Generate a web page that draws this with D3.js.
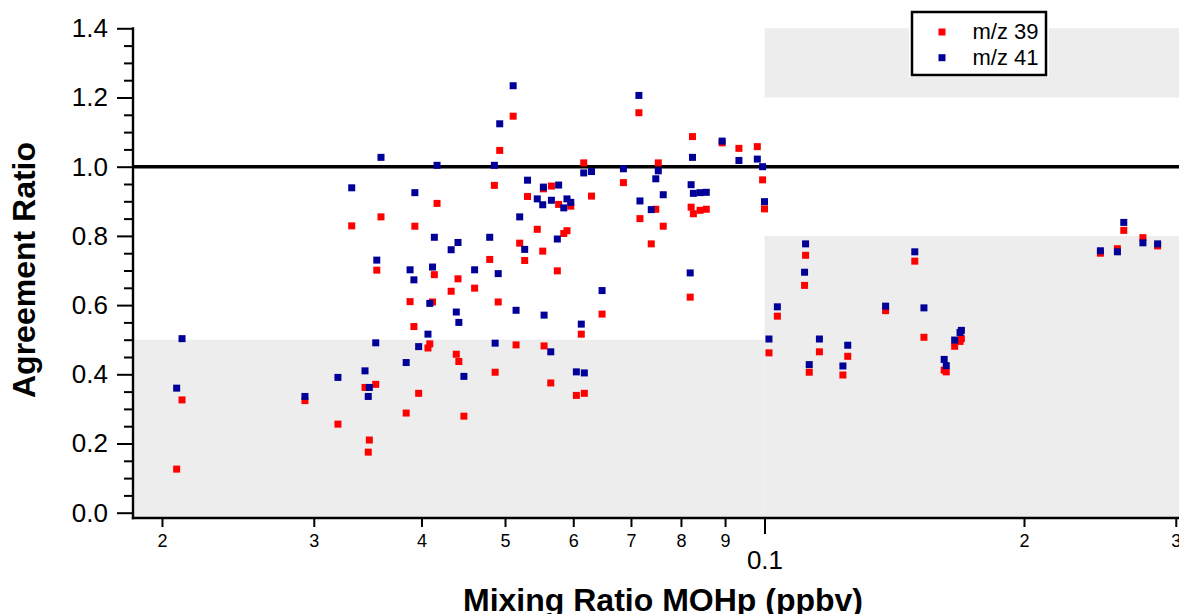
<!DOCTYPE html>
<html>
<head>
<meta charset="utf-8">
<script src="https://cdn.jsdelivr.net/npm/d3@7"></script>
<style>
  html, body { margin: 0; padding: 0; background: #ffffff; }
  svg { display: block; font-family: "Liberation Sans", Arial, Helvetica, sans-serif; }
</style>
</head>
<body>
<svg id="chart" width="1179" height="614"></svg>
<script>
// Mixing ratio of MOHp (ppbv) for each sample
const mixingRatio = [
  0.0208, 0.0211, 0.0293, 0.0320, 0.0332, 0.0344, 0.0347, 0.0348, 0.0354, 0.0355,
  0.0359, 0.0384, 0.0388, 0.0392, 0.0393, 0.0397, 0.0407, 0.0409, 0.0412, 0.0414,
  0.0417, 0.0433, 0.0439, 0.0441, 0.0442, 0.0448, 0.0461, 0.0480, 0.0486, 0.0487,
  0.0491, 0.0493, 0.0511, 0.0515, 0.0520, 0.0527, 0.0531, 0.0545, 0.0554, 0.0553,
  0.0555, 0.0565, 0.0566, 0.0575, 0.0577, 0.0585, 0.0590, 0.0596, 0.0605, 0.0613,
  0.0617, 0.0618, 0.0630, 0.0648, 0.0686, 0.0715, 0.0717, 0.0739, 0.0748, 0.0753,
  0.0763, 0.0820, 0.0822, 0.0825, 0.0827, 0.0842, 0.0856, 0.0893, 0.0934, 0.0981,
  0.0995, 0.1000, 0.1012, 0.1035, 0.1113, 0.1116, 0.1127, 0.1158, 0.1233, 0.1249,
  0.1382, 0.1494, 0.1531, 0.1616, 0.1625, 0.1662, 0.1686, 0.1692, 0.2453, 0.2567,
  0.2611, 0.2748, 0.2858
];

// Agreement ratio for m/z 39
const ratioMz39 = [
  0.126, 0.326, 0.324, 0.256, 0.829, 0.362, 0.175, 0.210, 0.371, 0.701,
  0.855, 0.288, 0.610, 0.538, 0.828, 0.345, 0.476, 0.488, 0.609, 0.688,
  0.894, 0.640, 0.458, 0.676, 0.437, 0.279, 0.649, 0.732, 0.946, 0.406,
  0.609, 1.047, 1.146, 0.485, 0.779, 0.729, 0.914, 0.819, 0.936, 0.756,
  0.482, 0.375, 0.944, 0.699, 0.891, 0.807, 0.815, 0.886, 0.339, 0.516,
  1.011, 0.345, 0.915, 0.574, 0.954, 1.156, 0.850, 0.777, 0.877, 1.011,
  0.828, 0.623, 0.883, 1.087, 0.864, 0.874, 0.877, 1.069, 1.053, 1.058,
  0.962, 0.878, 0.462, 0.568, 0.657, 0.744, 0.406, 0.465, 0.398, 0.452,
  0.584, 0.727, 0.507, 0.412, 0.407, 0.481, 0.495, 0.503, 0.750, 0.763,
  0.816, 0.795, 0.771
];

// Agreement ratio for m/z 41
const ratioMz41 = [
  0.360, 0.503, 0.336, 0.391, 0.939, 0.410, 0.336, 0.362, 0.491, 0.730,
  1.027, 0.434, 0.702, 0.673, 0.925, 0.480, 0.516, 0.605, 0.710, 0.796,
  1.004, 0.760, 0.580, 0.781, 0.550, 0.394, 0.702, 0.796, 1.004, 0.490,
  0.691, 1.124, 1.234, 0.585, 0.855, 0.761, 0.961, 0.907, 0.941, 0.890,
  0.571, 0.465, 0.903, 0.791, 0.947, 0.881, 0.907, 0.897, 0.407, 0.545,
  0.982, 0.404, 0.986, 0.642, 0.994, 1.206, 0.901, 0.876, 0.965, 0.988,
  0.919, 0.693, 0.948, 1.027, 0.923, 0.925, 0.926, 1.074, 1.018, 1.022,
  1.000, 0.899, 0.502, 0.595, 0.695, 0.777, 0.428, 0.502, 0.424, 0.484,
  0.597, 0.754, 0.592, 0.443, 0.425, 0.499, 0.521, 0.527, 0.757, 0.754,
  0.839, 0.780, 0.777
];

// Shaded acceptance regions: [xFrom, xTo, yFrom, yTo] (null = plot edge)
const shadedRegions = [
  [null, 0.1, null, 0.5],
  [0.1, null, null, 0.8],
  [0.1, null, 1.2, 1.4]
];

const xMinorTicks = [0.02, 0.03, 0.04, 0.05, 0.06, 0.07, 0.08, 0.09, 0.2, 0.3];
const xMajorTicks = [0.1];
const yMajorTicks = [0.0, 0.2, 0.4, 0.6, 0.8, 1.0, 1.2, 1.4];
const yMinorTicks = [0.05, 0.1, 0.15, 0.25, 0.3, 0.35, 0.45, 0.5, 0.55, 0.65, 0.7, 0.75,
                     0.85, 0.9, 0.95, 1.05, 1.1, 1.15, 1.25, 1.3, 1.35];
const referenceRatio = 1.0;

const seriesNames = ["m/z 39", "m/z 41"];
const seriesColors = ["#ff0000", "#000099"];

// ---- layout ----
const plotLeft = 133, plotRight = 1179, plotTop = 28.3, plotBottom = 518;
const svg = d3.select("#chart");

const x = d3.scaleLog().domain([0.01851, 0.3026]).range([plotLeft, plotRight]);
const y = d3.scaleLinear().domain([0, 1.4]).range([512.7, plotTop]);

// shaded regions
svg.append("g").selectAll("rect")
  .data(shadedRegions)
  .join("rect")
  .attr("x", d => d[0] === null ? plotLeft : x(d[0]))
  .attr("width", d => (d[1] === null ? plotRight : x(d[1])) - (d[0] === null ? plotLeft : x(d[0])))
  .attr("y", d => y(d[3]))
  .attr("height", d => (d[2] === null ? plotBottom : y(d[2])) - y(d[3]))
  .attr("fill", "#ededed");

// reference line at ratio 1
svg.append("line")
  .attr("x1", plotLeft).attr("x2", plotRight)
  .attr("y1", y(referenceRatio)).attr("y2", y(referenceRatio))
  .attr("stroke", "#000").attr("stroke-width", 3.6);

// markers: m/z 39 first, m/z 41 drawn on top
const markerSize = 7;
[ratioMz39, ratioMz41].forEach((vals, i) => {
  svg.append("g").selectAll("rect")
    .data(vals.map((v, j) => [mixingRatio[j], v]))
    .join("rect")
    .attr("x", d => x(d[0]) - markerSize / 2)
    .attr("y", d => y(d[1]) - markerSize / 2)
    .attr("width", markerSize)
    .attr("height", markerSize)
    .attr("fill", seriesColors[i]);
});

// ---- axes ----
function styleAxis(g) {
  g.select(".domain").remove();
  g.selectAll(".tick line").attr("stroke", "#000").attr("stroke-width", 2);
  g.selectAll(".tick text").attr("fill", "#000");
}

// y axis
svg.append("g")
  .attr("transform", `translate(${plotLeft},0)`)
  .call(d3.axisLeft(y).tickValues(yMinorTicks).tickSize(9).tickFormat(""))
  .call(styleAxis);
svg.append("g")
  .attr("transform", `translate(${plotLeft},0)`)
  .call(d3.axisLeft(y).tickValues(yMajorTicks).tickSize(16).tickPadding(9).tickFormat(d3.format(".1f")))
  .call(styleAxis)
  .call(g => g.selectAll(".tick text").attr("font-size", 26));

// x axis
svg.append("g")
  .attr("transform", `translate(0,${plotBottom})`)
  .call(d3.axisBottom(x).tickValues(xMinorTicks).tickSize(9).tickPadding(7)
    .tickFormat(d => String(Math.round(d / Math.pow(10, Math.floor(Math.log10(d) + 1e-9))))))
  .call(styleAxis)
  .call(g => g.selectAll(".tick text").attr("font-size", 18));
svg.append("g")
  .attr("transform", `translate(0,${plotBottom})`)
  .call(d3.axisBottom(x).tickValues(xMajorTicks).tickSize(16).tickPadding(17).tickFormat(d3.format(".1")))
  .call(styleAxis)
  .call(g => g.selectAll(".tick text").attr("font-size", 26));

// axis lines
svg.append("line")
  .attr("x1", plotLeft).attr("x2", plotLeft)
  .attr("y1", plotTop - 1).attr("y2", plotBottom + 1.2)
  .attr("stroke", "#000").attr("stroke-width", 2.4);
svg.append("line")
  .attr("x1", plotLeft - 1.2).attr("x2", plotRight)
  .attr("y1", plotBottom).attr("y2", plotBottom)
  .attr("stroke", "#000").attr("stroke-width", 2.4);

// axis titles
svg.append("text")
  .attr("transform", `translate(35,270) rotate(-90)`)
  .attr("text-anchor", "middle")
  .attr("font-size", 32).attr("font-weight", "bold")
  .text("Agreement Ratio");
svg.append("text")
  .attr("x", 663).attr("y", 611)
  .attr("text-anchor", "middle")
  .attr("font-size", 32).attr("font-weight", "bold")
  .text("Mixing Ratio MOHp (ppbv)");

// ---- legend ----
const legend = svg.append("g");
legend.append("rect")
  .attr("x", 909).attr("y", 9).attr("width", 140).attr("height", 68)
  .attr("fill", "#fff");
legend.append("rect")
  .attr("x", 912).attr("y", 12).attr("width", 134).attr("height", 63)
  .attr("fill", "#fff").attr("stroke", "#000").attr("stroke-width", 2.5);
seriesNames.forEach((name, i) => {
  const cy = 32 + i * 25.7;
  legend.append("rect")
    .attr("x", 942 - markerSize / 2).attr("y", cy - markerSize / 2)
    .attr("width", markerSize).attr("height", markerSize)
    .attr("fill", seriesColors[i]);
  legend.append("text")
    .attr("x", 972.5).attr("y", cy + 7)
    .attr("font-size", 22)
    .text(name);
});
</script>
</body>
</html>
